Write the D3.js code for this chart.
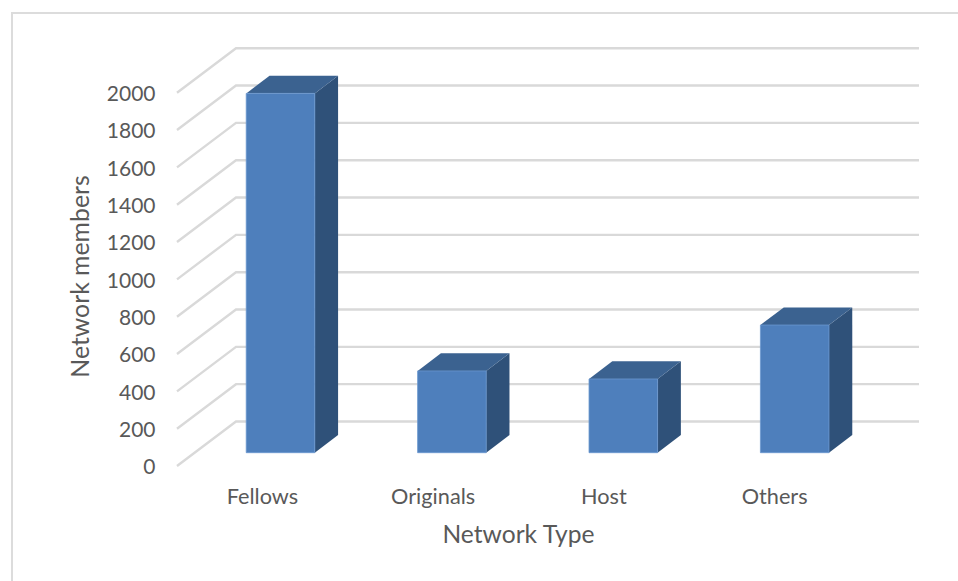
<!DOCTYPE html>
<html>
<head>
<meta charset="utf-8">
<script src="https://cdn.jsdelivr.net/npm/d3@7/dist/d3.min.js"></script>
<style>
  html, body { margin: 0; padding: 0; background: #fff; overflow: hidden; }
  svg { display: block; }
  text { font-family: Lato, sans-serif; fill: #595959; }
</style>
</head>
<body>
<svg id="chart" width="958" height="581"></svg>
<script>
const categories = ["Fellows", "Originals", "Host", "Others"];
const members = [1925, 438, 395, 684];
const yTicks = d3.range(0, 2001, 200);
const xTitle = "Network Type";
const yTitle = "Network members";

const colors = { front: "#4e7fbc", frontEdge: "#6a97cf", top: "#3b6290", side: "#2f5179", grid: "#d9d9d9", frame: "#dcdcdc" };

const svg = d3.select("#chart");

// Oblique projection: the chart floor runs from the front plane to the back wall.
const wall = { dx: 59, dy: -44.5, right: 919 };
const barPlane = { dx: 17.8, dy: -13.3 };
const barDepth = { dx: 23.3, dy: -17.6 };

const x = d3.scaleBand().domain(categories).range([177, 862.6]).paddingInner(0.6).paddingOuter(0.3);
const y = d3.scaleLinear().domain([0, 2000]).range([466, 92.7]);

// Outer frame: only the top and left edges fall inside the window.
svg.append("path")
  .attr("d", "M12,581V13H958")
  .attr("fill", "none").attr("stroke", colors.frame).attr("stroke-width", 2);

// Back wall gridlines and their side-wall diagonals.
const grid = svg.append("g").attr("fill", "none").attr("stroke", colors.grid).attr("stroke-width", 2.4);
grid.selectAll("path").data(yTicks).join("path")
  .attr("d", d => {
    const x0 = x.range()[0];
    const line = d3.path();
    line.moveTo(x0, y(d));
    line.lineTo(x0 + wall.dx, y(d) + wall.dy);
    line.lineTo(wall.right, y(d) + wall.dy);
    return line.toString();
  });

// Bars as three visible faces of a box.
const bars = svg.append("g").selectAll("g").data(categories).join("g");
const corners = (c, i) => ({
  l: x(c) + barPlane.dx,
  r: x(c) + x.bandwidth() + barPlane.dx,
  t: y(members[i]) + barPlane.dy,
  b: y(0) + barPlane.dy
});
const poly = pts => "M" + pts.map(p => p.join(",")).join("L") + "Z";

bars.append("path").attr("fill", colors.side).attr("d", (c, i) => {
  const k = corners(c, i);
  return poly([[k.r, k.t], [k.r + barDepth.dx, k.t + barDepth.dy], [k.r + barDepth.dx, k.b + barDepth.dy], [k.r, k.b]]);
});
bars.append("path").attr("fill", colors.top).attr("d", (c, i) => {
  const k = corners(c, i);
  return poly([[k.l, k.t], [k.l + barDepth.dx, k.t + barDepth.dy], [k.r + barDepth.dx, k.t + barDepth.dy], [k.r, k.t]]);
});
bars.append("path").attr("fill", colors.front)
  .attr("stroke", colors.frontEdge).attr("stroke-width", 0.8)
  .attr("d", (c, i) => {
    const k = corners(c, i);
    return poly([[k.l, k.t], [k.r, k.t], [k.r, k.b], [k.l, k.b]]);
  });

// Value axis labels on the front plane.
const yAxis = svg.append("g")
  .attr("transform", "translate(176.5,1)")
  .call(d3.axisLeft(y).tickValues(yTicks).tickSize(0).tickPadding(21).tickFormat(d3.format("d")));
yAxis.select(".domain").remove();
yAxis.selectAll("text").attr("font-size", 21).style("font-family", "Lato, sans-serif").attr("fill", "#595959");

// Category labels.
const xAxis = svg.append("g")
  .attr("transform", "translate(0,498)")
  .call(d3.axisBottom(x.copy().range([177, 860])).tickSize(0).tickPadding(0));
xAxis.select(".domain").remove();
xAxis.selectAll("text").attr("font-size", 21.7).attr("y", 0).attr("dy", 0).attr("dominant-baseline", "middle")
  .style("font-family", "Lato, sans-serif").attr("fill", "#595959");

// Axis titles.
svg.append("text").attr("x", 518.5).attr("y", 537).attr("text-anchor", "middle")
  .attr("dominant-baseline", "middle").attr("font-size", 24.6).text(xTitle);
svg.append("text").attr("transform", "translate(83,276.5) rotate(-90)").attr("text-anchor", "middle")
  .attr("dominant-baseline", "middle").attr("font-size", 24.8).text(yTitle);
</script>
</body>
</html>
